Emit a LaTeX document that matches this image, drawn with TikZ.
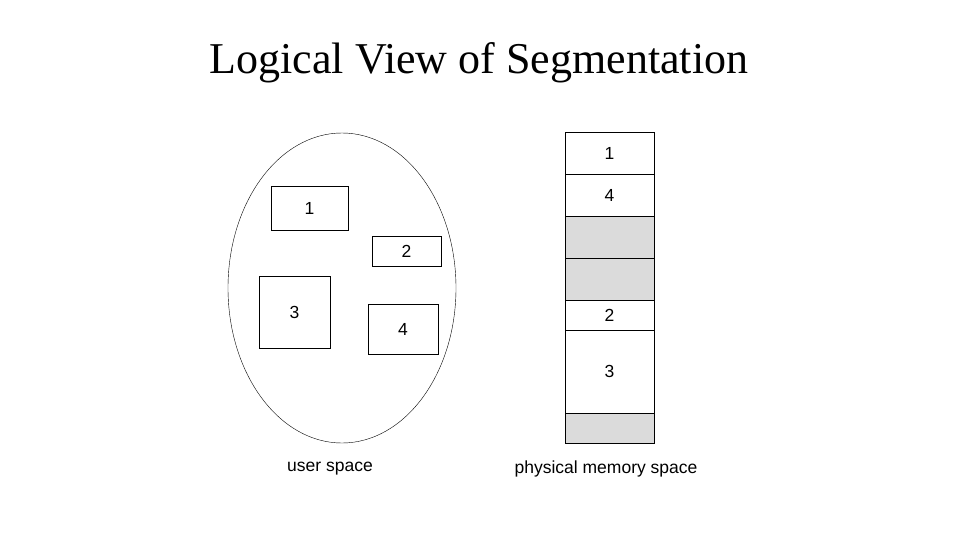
\documentclass[tikz,border=0pt]{standalone}
\usepackage{fontspec}
\newfontfamily\sansf{Liberation Sans}
\newfontfamily\seriff{Liberation Serif}
\begin{document}
\begin{tikzpicture}[
    x=1pt, y=-1pt,
    seg/.style={draw, thin, inner sep=0pt, font=\sansf\fontsize{17.5}{20}\selectfont},
    free/.style={seg, fill=black!14}
]
    \useasboundingbox (0,0) rectangle (960,540);

    % Titolo
    \node[font=\seriff\fontsize{44}{50}\selectfont] (title) at (479,63) {Logical View of Segmentation};

    % Spazio utente
    \draw[thin] (342,288) ellipse [x radius=114, y radius=155];
    \node[seg, minimum width=77, minimum height=44] (u1) at (309.5,208) {1};
    \node[seg, minimum width=69, minimum height=30] (u2) at (406.5,251) {2};
    \node[seg, minimum width=71, minimum height=72] (u3) at (294.5,312) {3};
    \node[seg, minimum width=70, minimum height=50] (u4) at (403,329) {4};

    % Memoria fisica
    \node[seg, minimum width=89, minimum height=42] (m1) at (609.5,153) {1};
    \node[seg, minimum width=89, minimum height=42] (m4) at (609.5,195) {4};
    \node[free, minimum width=89, minimum height=42] (h1) at (609.5,237) {};
    \node[free, minimum width=89, minimum height=42] (h2) at (609.5,279) {};
    \node[seg, minimum width=89, minimum height=30] (m2) at (609.5,315) {2};
    \node[seg, minimum width=89, minimum height=83] (m3) at (609.5,371.5) {3};
    \node[free, minimum width=89, minimum height=30] (h3) at (609.5,428) {};

    % Etichette
    \node[font=\sansf\fontsize{17.5}{20}\selectfont] (user) at (330,469) {user space};
    \node[font=\sansf\fontsize{17.5}{20}\selectfont] (phys) at (606,469) {physical memory space};
\end{tikzpicture}
\end{document}
